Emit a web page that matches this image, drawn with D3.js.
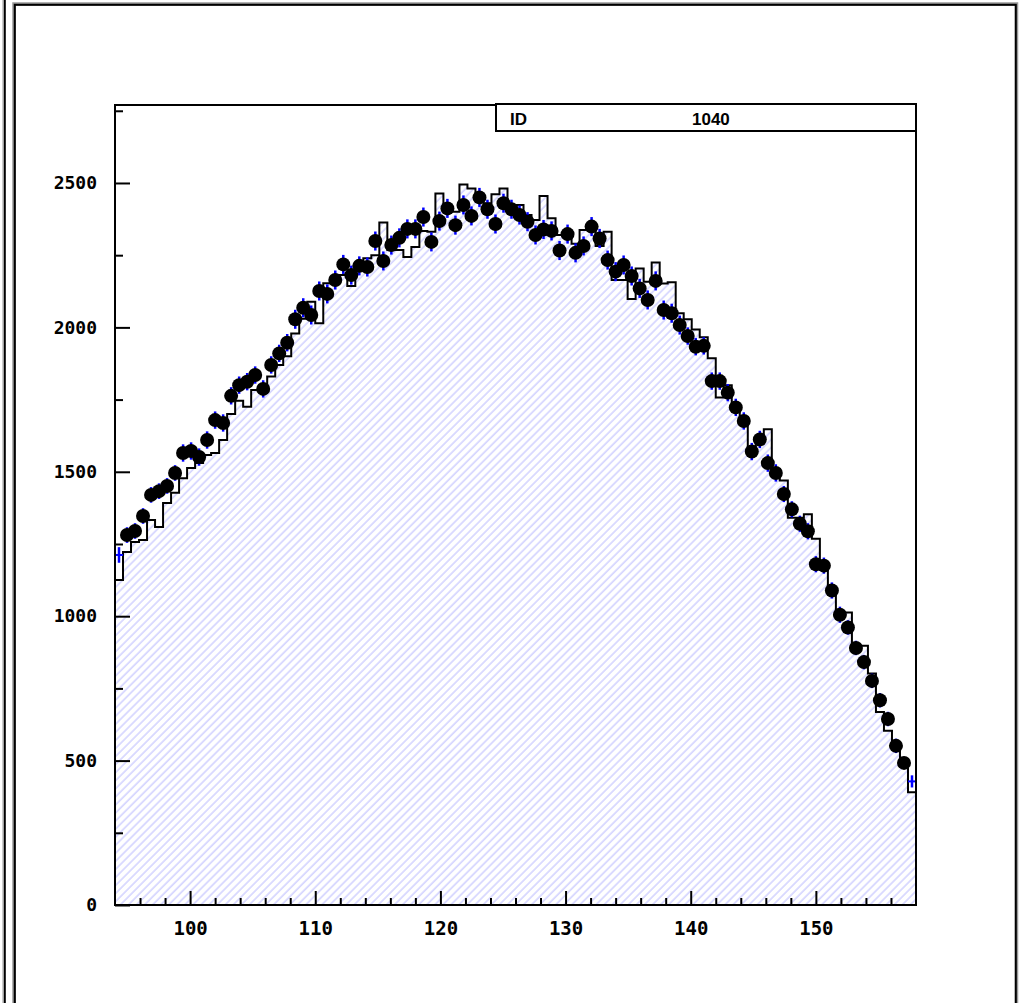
<!DOCTYPE html>
<html>
<head>
<meta charset="utf-8">
<script src="https://cdn.jsdelivr.net/npm/d3@7"></script>
<style>
body { margin: 0; background: #fff; }
svg { display: block; }
</style>
</head>
<body>
<script>
// histogram 1040 : 100 bins from 94 to 158
var xMin = 94, xMax = 158, nBins = 100;
var yMax = 2770;

// hatched reference histogram (bin contents)
var histValues = [1125,1222,1257,1264,1333,1309,1392,1427,1478,1513,
  1530,1558,1565,1610,1700,1746,1725,1783,1800,1830,
  1870,1900,1979,2030,2089,2014,2153,2153,2181,2143,
  2200,2239,2250,2363,2268,2268,2244,2278,2334,2331,
  2464,2406,2400,2495,2481,2448,2430,2461,2481,2424,
  2424,2389,2372,2455,2378,2320,2330,2290,2337,2344,
  2282,2331,2164,2164,2098,2204,2158,2225,2152,2156,
  2049,2028,1993,1966,1893,1757,1800,1731,1690,1586,
  1600,1647,1510,1470,1341,1341,1353,1268,1177,1083,
  1013,1013,898,898,802,668,603,560,485,390];

// data points
var pointValues = [1212,1281,1295,1347,1420,1433,1451,1496,1565,1572,
  1551,1610,1679,1669,1763,1800,1812,1835,1787,1870,
  1910,1947,2028,2068,2043,2126,2116,2164,2218,2181,
  2213,2209,2299,2230,2285,2310,2341,2341,2382,2296,
  2368,2412,2354,2424,2386,2450,2409,2358,2430,2409,
  2389,2366,2320,2339,2334,2266,2323,2258,2282,2349,
  2308,2233,2193,2216,2178,2135,2095,2161,2060,2049,
  2008,1970,1933,1936,1814,1814,1774,1723,1676,1570,
  1612,1530,1496,1423,1370,1320,1294,1180,1175,1089,
  1005,961,890,841,776,709,644,551,492,428];

// errors on the points
var pointErrors = [27,27,27,27,27,27,27,27,30,30,
  30,30,30,30,30,30,30,30,30,30,
  30,30,33,33,33,33,33,33,33,33,
  33,33,33,33,33,33,33,33,33,33,
  33,33,33,33,33,33,33,33,33,33,
  33,33,33,33,33,33,33,33,33,33,
  33,33,33,33,33,33,33,33,33,33,
  33,30,30,30,30,30,30,30,30,30,
  30,30,30,28,28,28,28,28,28,28,
  28,25,25,25,25,25,25,25,21,21];

var xMajor = [100,110,120,130,140,150];
var xMinor = [96,98,102,104,106,108,112,114,116,118,122,124,126,128,132,134,136,138,142,144,146,148,152,154,156];
var yMajor = [0,500,1000,1500,2000,2500];
var yMinor = [250,750,1250,1750,2250,2750];

var legendLabel = "ID", legendValue = "1040";

var W = 1019, H = 1003;
var padL = 115, padR = 916, padT = 105, padB = 905;

var svg = d3.select("body").append("svg")
  .attr("width", W).attr("height", H);

var x = d3.scaleLinear().domain([xMin, xMax]).range([padL, padR]);
var y = d3.scaleLinear().domain([0, yMax]).range([padB, padT]);
var binW = (xMax - xMin) / nBins;

// page frames
svg.append("line").attr("x1",3).attr("x2",3).attr("y1",0).attr("y2",H)
  .attr("stroke","#999").attr("stroke-width",1);
svg.append("line").attr("x1",4.8).attr("x2",4.8).attr("y1",0).attr("y2",H)
  .attr("stroke","#000").attr("stroke-width",2);
svg.append("rect").attr("x",14).attr("y",4).attr("width",1002.5).attr("height",H)
  .attr("fill","none").attr("stroke","#999").attr("stroke-width",3.5);
svg.append("rect").attr("x",14.8).attr("y",4.8).attr("width",1001).attr("height",H)
  .attr("fill","none").attr("stroke","#000").attr("stroke-width",2);

// hatch pattern: rotated vertical lines
var pat = svg.append("defs").append("pattern")
  .attr("id","hatch").attr("patternUnits","userSpaceOnUse")
  .attr("width",5.7).attr("height",10)
  .attr("patternTransform","rotate(45)");
pat.append("rect").attr("width",5.7).attr("height",10).attr("fill","#fff");
pat.append("line")
  .attr("x1",1).attr("x2",1).attr("y1",0).attr("y2",10)
  .attr("stroke","#a4a4ff").attr("stroke-width",0.8);

var bins = histValues.map(function(v, i) {
  return { x0: xMin + i * binW, x1: xMin + (i + 1) * binW, v: v };
});
var steps = [];
bins.forEach(function(b) { steps.push([b.x0, b.v]); steps.push([b.x1, b.v]); });

var plot = svg.append("g");

plot.append("path")
  .datum(steps)
  .attr("fill","url(#hatch)")
  .attr("d", d3.area().x(function(d) { return x(d[0]); }).y0(y(0)).y1(function(d) { return y(d[1]); }));

plot.append("path")
  .datum(steps)
  .attr("fill","none").attr("stroke","#000").attr("stroke-width",2)
  .attr("d", d3.line().x(function(d) { return x(d[0]); }).y(function(d) { return y(d[1]); }));

// points with error bars
var pts = pointValues.map(function(v, i) {
  return { c: xMin + (i + 0.5) * binW, v: v, e: pointErrors[i], i: i };
});

plot.selectAll("line.ey").data(pts).enter().append("line")
  .attr("class","ey")
  .attr("x1", function(d) { return x(d.c); }).attr("x2", function(d) { return x(d.c); })
  .attr("y1", function(d) { return y(d.v - d.e); }).attr("y2", function(d) { return y(d.v + d.e); })
  .attr("stroke","#0000ff").attr("stroke-width",2.5);

plot.selectAll("line.ex").data(pts).enter().append("line")
  .attr("class","ex")
  .attr("x1", function(d) { return x(d.c - binW / 2); }).attr("x2", function(d) { return x(d.c + binW / 2); })
  .attr("y1", function(d) { return y(d.v); }).attr("y2", function(d) { return y(d.v); })
  .attr("stroke","#0000ff").attr("stroke-width",2);

// markers not drawn where they would cross the frame
plot.selectAll("circle").data(pts.filter(function(d) { return d.i > 0 && d.i < nBins - 1; }))
  .enter().append("circle")
  .attr("cx", function(d) { return x(d.c); })
  .attr("cy", function(d) { return y(d.v); })
  .attr("r", 7)
  .attr("fill","#000");

// axes, ticks pointing inward
var tickFont = "'DejaVu Sans Mono', monospace";

svg.append("g").attr("class","yax").attr("transform","translate(" + padL + ",0)")
  .call(d3.axisLeft(y).tickValues(yMajor).tickSize(-15).tickPadding(18).tickFormat(d3.format("d")));
svg.append("g").attr("transform","translate(" + padL + ",0)")
  .call(d3.axisLeft(y).tickValues(yMinor).tickSize(-8).tickFormat(""));

svg.append("g").attr("class","xax").attr("transform","translate(0," + padB + ")")
  .call(d3.axisBottom(x).tickValues(xMajor).tickSize(-14).tickPadding(17).tickFormat(d3.format("d")));
svg.append("g").attr("transform","translate(0," + padB + ")")
  .call(d3.axisBottom(x).tickValues(xMinor).tickSize(-7).tickFormat(""));

svg.selectAll(".domain").remove();
svg.selectAll(".tick line").attr("stroke","#000").attr("stroke-width",2);
svg.selectAll(".tick text")
  .attr("font-family", tickFont).attr("font-weight","bold")
  .attr("font-size",18).attr("fill","#000");
svg.selectAll(".xax .tick text").attr("font-size",19);

// plot frame
svg.append("rect")
  .attr("x",padL).attr("y",padT).attr("width",padR - padL).attr("height",padB - padT)
  .attr("fill","none").attr("stroke","#000").attr("stroke-width",2);

// stats box
svg.append("rect")
  .attr("x",496).attr("y",104).attr("width",padR - 496).attr("height",27)
  .attr("fill","#fff").attr("stroke","#000").attr("stroke-width",2);
svg.append("text").attr("x",510).attr("y",125)
  .attr("font-family","'Liberation Sans', Arial, sans-serif").attr("font-weight","bold")
  .attr("font-size",17).text(legendLabel);
svg.append("text").attr("x",692).attr("y",125)
  .attr("font-family","'Liberation Sans', Arial, sans-serif").attr("font-weight","bold")
  .attr("font-size",17).text(legendValue);
</script>
</body>
</html>
